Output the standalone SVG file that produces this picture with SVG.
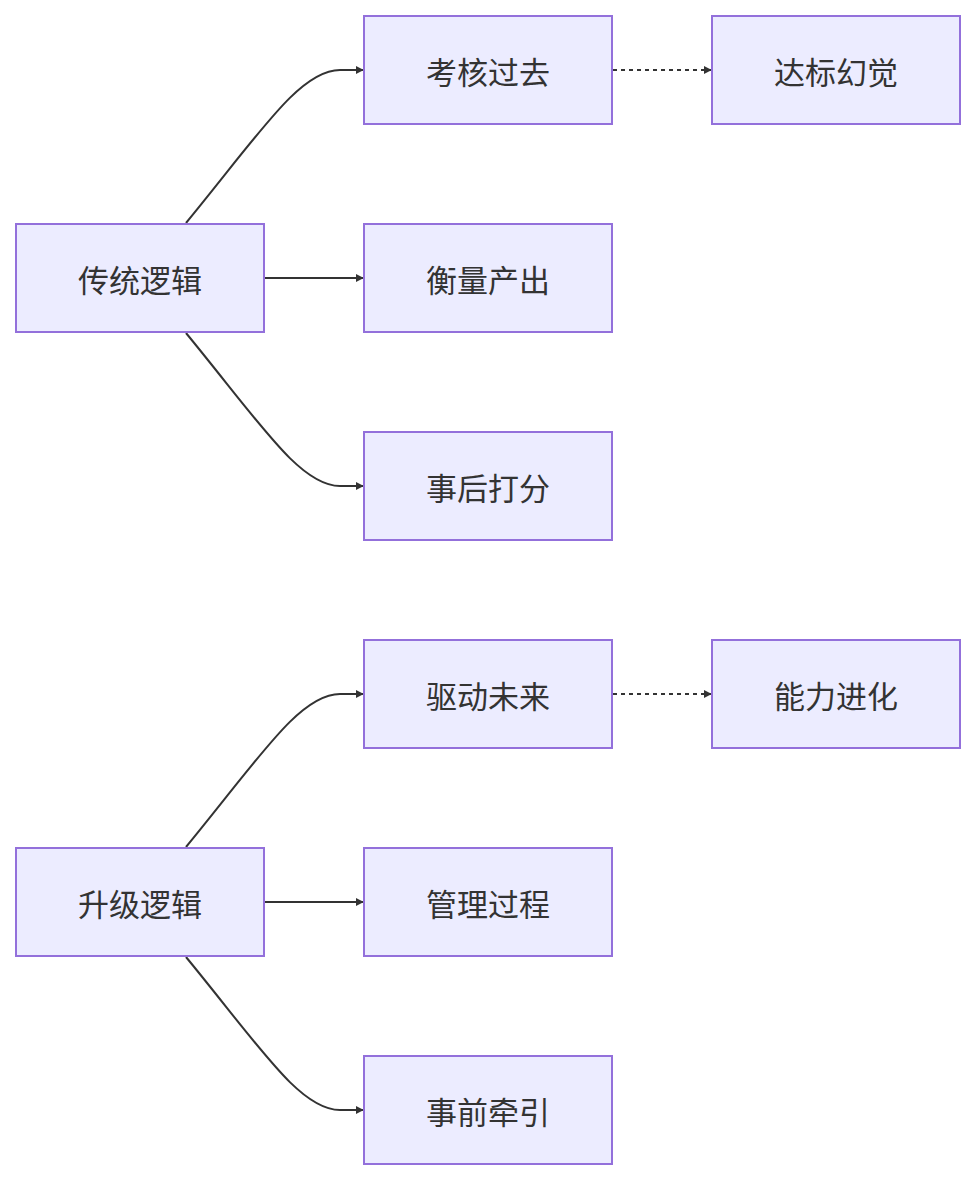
<svg xmlns="http://www.w3.org/2000/svg" width="976" height="1180" viewBox="0 0 976 1180">
<style>
.n rect{fill:#ECECFF;stroke:#9370DB;stroke-width:2}
.n text{font-family:"Noto Sans CJK SC",sans-serif;font-size:31px;fill:#333;text-anchor:middle;dominant-baseline:central}
.e path{fill:none;stroke:#333;stroke-width:2;marker-end:url(#a)}
.e .d{stroke-dasharray:4 4}
</style>
<defs><marker id="a" viewBox="0 0 10 10" refX="9" refY="5" markerWidth="8" markerHeight="8" orient="auto" markerUnits="userSpaceOnUse"><path d="M0,0 L10,5 L0,10 z" fill="#333"/></marker></defs>
<rect width="976" height="1180" fill="#fff"/>
<g class="e">
<path d="M186,223 C260,133 300,70 340,70 L363,70"/>
<path d="M265,278 L363,278"/>
<path d="M186,333 C260,423 300,486 340,486 L363,486"/>
<path class="d" d="M613,70 L711,70"/>
<path d="M186,847 C260,757 300,694 340,694 L363,694"/>
<path d="M265,902 L363,902"/>
<path d="M186,957 C260,1047 300,1110 340,1110 L363,1110"/>
<path class="d" d="M613,694 L711,694"/>
</g>
<g id="n1" class="n"><rect x="16" y="224" width="248" height="108"/><text x="140" y="278">传统逻辑</text></g>
<g id="n2" class="n"><rect x="364" y="16" width="248" height="108"/><text x="488" y="70">考核过去</text></g>
<g id="n3" class="n"><rect x="364" y="224" width="248" height="108"/><text x="488" y="278">衡量产出</text></g>
<g id="n4" class="n"><rect x="364" y="432" width="248" height="108"/><text x="488" y="486">事后打分</text></g>
<g id="n5" class="n"><rect x="712" y="16" width="248" height="108"/><text x="836" y="70">达标幻觉</text></g>
<g id="n6" class="n"><rect x="16" y="848" width="248" height="108"/><text x="140" y="902">升级逻辑</text></g>
<g id="n7" class="n"><rect x="364" y="640" width="248" height="108"/><text x="488" y="694">驱动未来</text></g>
<g id="n8" class="n"><rect x="364" y="848" width="248" height="108"/><text x="488" y="902">管理过程</text></g>
<g id="n9" class="n"><rect x="364" y="1056" width="248" height="108"/><text x="488" y="1110">事前牵引</text></g>
<g id="n10" class="n"><rect x="712" y="640" width="248" height="108"/><text x="836" y="694">能力进化</text></g>
</svg>
